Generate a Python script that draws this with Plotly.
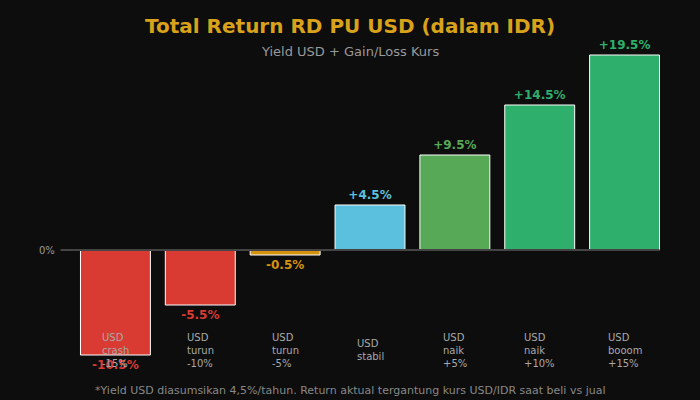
import plotly.graph_objects as go

categories = ["USD<br>crash<br>-15%", "USD<br>turun<br>-10%", "USD<br>turun<br>-5%", "USD<br>stabil",
              "USD<br>naik<br>+5%", "USD<br>naik<br>+10%", "USD<br>booom<br>+15%"]
keys = ["c1", "c2", "c3", "c4", "c5", "c6", "c7"]
returns = [-10.5, -5.5, -0.5, 4.5, 9.5, 14.5, 19.5]
value_labels = ["-10.5%", "-5.5%", "-0.5%", "+4.5%", "+9.5%", "+14.5%", "+19.5%"]
bar_colors = ["#d93a32", "#d93a32", "#d4930f", "#5bc0de", "#57a957", "#2eaf6c", "#2eaf6c"]
label_colors = ["#d93a32", "#d93a32", "#d4930f", "#5bc0de", "#57a957", "#2eaf6c", "#2eaf6c"]

L, R, T, B = 72.5, 32.5, 45, 25
W, H = 700, 400
PW, PH = W - L - R, H - T - B


def px(xp):
    return (xp - L) / PW


def py(yp):
    return (H - B - yp) / PH


fig = go.Figure()
fig.add_trace(go.Bar(
    x=keys, y=returns,
    marker=dict(color=bar_colors, line=dict(color="white", width=1)),
    text=["<b>%s</b>" % v for v in value_labels], textposition="outside",
    textfont=dict(family="DejaVu Sans", size=12, color=label_colors),
    cliponaxis=False, hoverinfo="skip",
))

for k, c in zip(keys, categories):
    fig.add_annotation(x=k, xref="x", y=py(350), yref="paper", text=c, showarrow=False,
                       align="left", yanchor="middle",
                       font=dict(family="DejaVu Sans", size=10, color="#a8a8a8"))

fig.update_layout(
    width=W, height=H,
    paper_bgcolor="#0d0d0d", plot_bgcolor="#0d0d0d",
    margin=dict(l=L, r=R, t=T, b=B),
    bargap=0.176,
    showlegend=False,
    xaxis=dict(range=[-0.5, 6.5], showticklabels=False, showgrid=False, zeroline=False, showline=False, ticks=""),
    yaxis=dict(range=[-12.5, 20.5], showticklabels=False, showgrid=False,
               zeroline=False, showline=False, ticks=""),
)
fig.add_shape(type="line", xref="paper", yref="y", x0=px(60), x1=px(660), y0=0, y1=0,
              line=dict(color="#444444", width=2), layer="above")
fig.add_annotation(text="0%", xref="paper", yref="y", x=px(56), y=0, xanchor="right", yanchor="middle",
                   showarrow=False, font=dict(family="DejaVu Sans", size=10, color="#999999"))
fig.add_annotation(text="<b>Total Return RD PU USD (dalam IDR)</b>", xref="paper", yref="paper",
                   x=px(350), y=py(26), showarrow=False, yanchor="middle",
                   font=dict(family="DejaVu Sans", size=20, color="#d9a21b"))
fig.add_annotation(text="Yield USD + Gain/Loss Kurs", xref="paper", yref="paper",
                   x=px(350), y=py(51), showarrow=False, yanchor="middle",
                   font=dict(family="DejaVu Sans", size=13, color="#999999"))
fig.add_annotation(text="*Yield USD diasumsikan 4,5%/tahun. Return aktual tergantung kurs USD/IDR saat beli vs jual",
                   xref="paper", yref="paper",
                   x=px(350), y=py(390), showarrow=False, yanchor="middle",
                   font=dict(family="DejaVu Sans", size=11, color="#888888"))

fig.write_html("out.html")
